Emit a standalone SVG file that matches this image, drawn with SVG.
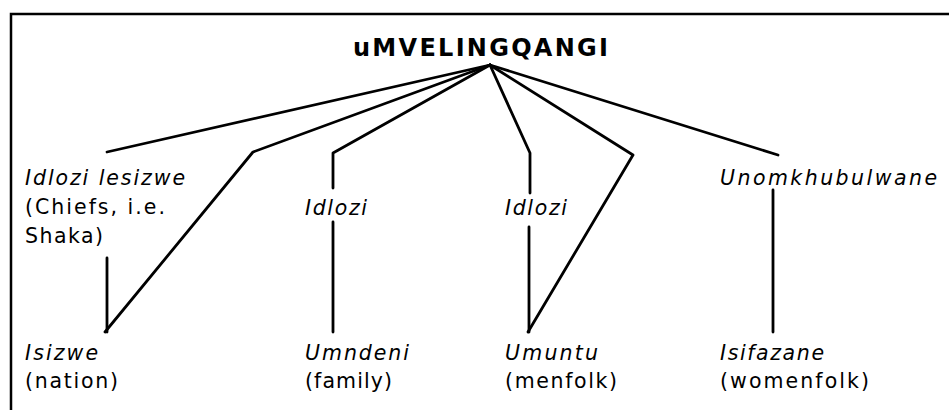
<svg xmlns="http://www.w3.org/2000/svg" width="949" height="410" viewBox="0 0 949 410">
<style>
  text { font-family: "DejaVu Sans", "Liberation Sans", sans-serif; font-size: 20.5px; fill: #000; }
  .it { font-style: italic; }
  .title { font-weight: bold; font-size: 24px; }
  .ln { fill: none; stroke: #000; stroke-width: 2.8; stroke-linecap: round; stroke-linejoin: round; }
  .frame { fill: none; stroke: #000; stroke-width: 2.5; }
</style>
<rect width="949" height="410" fill="#fff"/>
<g id="frame">
  <path class="frame" d="M11 410 V14 H949"/>
</g>
<g id="connectors">
  <path class="ln" d="M490 65 L107 152"/>
  <path class="ln" d="M490 65 L253 152 L105 332"/>
  <path class="ln" d="M490 65 L333 153 V188"/>
  <path class="ln" d="M490 65 L530 153 V193"/>
  <path class="ln" d="M490 65 L633 155 L528 332"/>
  <path class="ln" d="M490 65 L778 155"/>
  <path class="ln" d="M107 258 V332"/>
  <path class="ln" d="M333 222 V332"/>
  <path class="ln" d="M529 227 V332"/>
  <path class="ln" d="M773 190 V332"/>
</g>
<g id="n-umvelingqangi">
  <text class="title" x="353" y="56" textLength="255" lengthAdjust="spacing">uMVELINGQANGI</text>
</g>
<g id="n-idlozi-lesizwe">
  <text class="it" x="25" y="185" textLength="160" lengthAdjust="spacing">Idlozi lesizwe</text>
  <text x="25" y="214" textLength="140" lengthAdjust="spacing">(Chiefs, i.e.</text>
  <text x="25" y="243" textLength="78" lengthAdjust="spacing">Shaka)</text>
</g>
<g id="n-idlozi-1">
  <text class="it" x="305" y="215" textLength="62" lengthAdjust="spacing">Idlozi</text>
</g>
<g id="n-idlozi-2">
  <text class="it" x="505" y="215" textLength="62" lengthAdjust="spacing">Idlozi</text>
</g>
<g id="n-unomkhubulwane">
  <text class="it" x="720" y="185" textLength="217" lengthAdjust="spacing">Unomkhubulwane</text>
</g>
<g id="n-isizwe">
  <text class="it" x="25" y="360" textLength="73" lengthAdjust="spacing">Isizwe</text>
  <text x="25" y="388" textLength="93" lengthAdjust="spacing">(nation)</text>
</g>
<g id="n-umndeni">
  <text class="it" x="305" y="360" textLength="104" lengthAdjust="spacing">Umndeni</text>
  <text x="305" y="388" textLength="87" lengthAdjust="spacing">(family)</text>
</g>
<g id="n-umuntu">
  <text class="it" x="505" y="360" textLength="93" lengthAdjust="spacing">Umuntu</text>
  <text x="505" y="388" textLength="112" lengthAdjust="spacing">(menfolk)</text>
</g>
<g id="n-isifazane">
  <text class="it" x="720" y="360" textLength="104" lengthAdjust="spacing">Isifazane</text>
  <text x="720" y="388" textLength="149" lengthAdjust="spacing">(womenfolk)</text>
</g>
</svg>
